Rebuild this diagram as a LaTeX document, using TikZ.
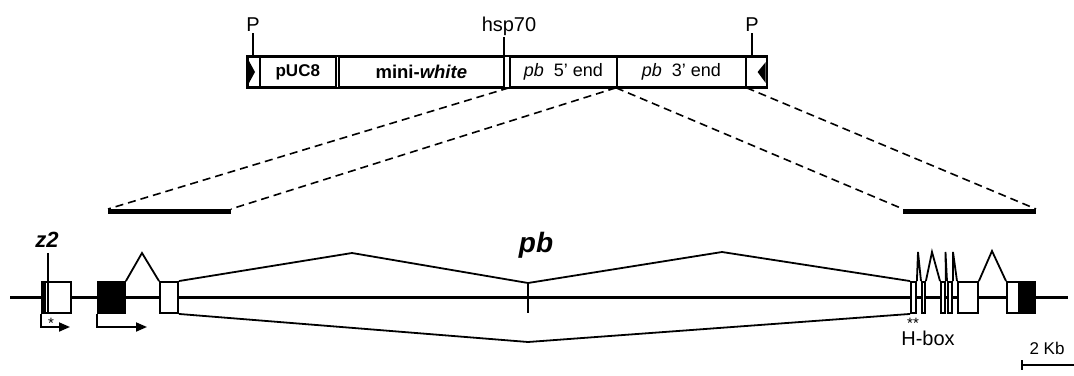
\documentclass[tikz,border=0pt]{standalone}
\usepackage{fontspec}
\setmainfont{Liberation Sans}
\usetikzlibrary{arrows.meta}
\begin{document}
\begin{tikzpicture}[x=1pt,y=-1pt,
  seg/.style={draw, line width=1.6pt, minimum height=30pt, inner sep=0pt, anchor=west, font=\fontsize{18}{18}\selectfont},
  exon/.style={draw, line width=1.9pt, fill=white, minimum height=31pt, inner sep=0pt, anchor=west},
  intr/.style={line width=1.8pt, line join=miter},
  dsh/.style={line width=1.6pt, dash pattern=on 8pt off 5pt},
  bar/.style={line width=5pt},
  arr/.style={line width=1.8pt, -{Triangle[length=11pt,width=9pt]}},
  lab/.style={inner sep=0pt, font=\fontsize{20}{20}\selectfont}]
\useasboundingbox (0,0) rectangle (1074,375);

% construct
\node[seg, minimum width=12pt] (lend) at (247,72) {};
\node[seg, minimum width=76pt] (puc) at (259,72) {\fontsize{17}{17}\selectfont\bfseries pUC8};
\node[seg, minimum width=165pt] (mw) at (338,72) {\fontsize{18.5}{18.5}\selectfont\bfseries mini-\textit{white}};
\node[seg, minimum width=107pt] (p5) at (509,72) {\textit{pb}\ \ 5' end};
\node[seg, minimum width=129pt] (p3) at (616,72) {\textit{pb}\ \ 3' end};
\node[seg, minimum width=21pt] (rend) at (745,72) {};
\draw[line width=1.6pt] (lend.north west) -- (rend.north east) -- (rend.south east) -- (lend.south west) -- cycle;
\fill ([xshift=1pt,yshift=-3pt]lend.north west) -- ([xshift=8pt]lend.west) -- ([xshift=1pt,yshift=3pt]lend.south west) -- cycle;
\fill ([xshift=-2pt,yshift=-6pt]rend.north east) -- ([xshift=-10pt]rend.east) -- ([xshift=-2pt,yshift=5pt]rend.south east) -- cycle;

\node[lab, anchor=base] (P1) at (253,31) {P};
\node[lab, anchor=base] (P2) at (752,31) {P};
\node[lab, anchor=base] (hsp) at (509,31) {hsp70};
\draw[line width=1.4pt] ([yshift=-2pt]P1.south) -- (P1.south |- lend.north);
\draw[line width=1.4pt] ([yshift=-2pt]P2.south) -- (P2.south |- rend.north);
\coordinate (hs) at (504,57);
\draw[line width=1.4pt] ([yshift=-2pt]hs |- hsp.south) -- (hs);

% bars and dashed lines
\coordinate (bl1) at (108,211);
\coordinate (bl2) at (231,211);
\coordinate (br1) at (903,211);
\coordinate (br2) at (1036,211);
\draw[bar] (bl1) -- (bl2);
\draw[bar] (br1) -- (br2);
\draw[dsh] (p5.south west) -- ([yshift=2pt]bl1);
\draw[dsh] (p3.south west) -- ([yshift=2pt]bl2);
\draw[dsh] (p3.south west) -- ([yshift=2pt]br1);
\draw[dsh] (p3.south east) -- ([yshift=2pt]br2);

% gene line
\coordinate (g0) at (10,297.5);
\coordinate (g1) at (1034,297.5);
\coordinate (g2) at (1068,297.5);
\draw[line width=3.5pt] (g0) -- (g1);
\draw[line width=2.2pt] (g1) -- (g2);

% big splicing pattern
\coordinate (pk1) at (142,253);
\coordinate (pk2) at (352,253);
\coordinate (mid) at (528,283);
\coordinate (midb) at (528,313);
\coordinate (pk3) at (722,252);
\coordinate (low) at (528,342);

% exons
\node[exon, minimum width=29pt] (z2e) at (41,297.5) {};
\fill (z2e.north west) rectangle ([xshift=5pt]z2e.south west);
\node[exon, fill=black, minimum width=27pt] (e1) at (97,297.5) {};
\node[exon, minimum width=18pt] (e2) at (159,297.5) {};
\node[exon, minimum width=5pt] (eA) at (910,297.5) {};
\node[exon, minimum width=3pt] (eB) at (921,297.5) {};
\node[exon, minimum width=4pt] (eC) at (940,297.5) {};
\node[exon, minimum width=4pt] (eD) at (947,297.5) {};
\node[exon, minimum width=20pt] (eE) at (957,297.5) {};
\node[exon, minimum width=28pt] (eF) at (1006,297.5) {};
\fill ([xshift=12pt]eF.north west) rectangle (eF.south east);

\draw[intr] (e1.north east) -- (pk1) -- (e2.north west);
\draw[intr] (e2.north east) -- (pk2) -- (mid) -- (pk3) -- (eA.north west);
\draw[intr] (e2.south east) -- (low) -- (eA.south west);
\draw[intr] (mid) -- (midb);

\coordinate (s1) at (918,252);
\coordinate (s2) at (932,252);
\coordinate (s3) at (945.5,252);
\coordinate (s4) at (953,252);
\coordinate (s5) at (992,251);
\draw[intr] (eA.north east) -- (s1) -- (eB.north west);
\draw[intr] (eB.north east) -- (s2) -- (eC.north west);
\draw[intr] (eC.north east) -- (s3) -- (eD.north west);
\draw[intr] (eD.north east) -- (s4) -- (eE.north west);
\draw[intr] (eE.north east) -- (s5) -- (eF.north west);

% z2 label and line
\node[inner sep=0pt, font=\fontsize{22}{22}\selectfont\bfseries\itshape] (z2) at (47,240) {z2};
\coordinate (z2b) at (48,313);
\draw[line width=1.5pt] ([yshift=-5pt]z2.south -| z2b) -- (z2b);

% promoter arrows
\coordinate (a1) at (70,327);
\coordinate (a2) at (147,327);
\draw[arr] (z2e.south west) |- (a1);
\draw[arr] (e1.south west) |- (a2);
\node[inner sep=0pt, font=\fontsize{15}{15}\selectfont] (st1) at (51,323) {*};

% labels
\node[inner sep=0pt, font=\fontsize{28}{28}\selectfont\bfseries\itshape] (pb) at (536,245) {pb};
\node[inner sep=0pt, font=\fontsize{15}{15}\selectfont] (st2) at (913,323) {**};
\node[inner sep=0pt, font=\fontsize{20}{20}\selectfont] (hbox) at (928,338) {H-box};
\node[inner sep=0pt, font=\fontsize{17}{17}\selectfont] (kb) at (1047,348) {2 Kb};
\coordinate (sb1) at (1022,365);
\coordinate (sb2) at (1074,365);
\draw[line width=1.5pt] (sb1) -- (sb2);
\draw[line width=1.5pt] ([yshift=5pt]sb1) -- ([yshift=-5pt]sb1);
\end{tikzpicture}
\end{document}
